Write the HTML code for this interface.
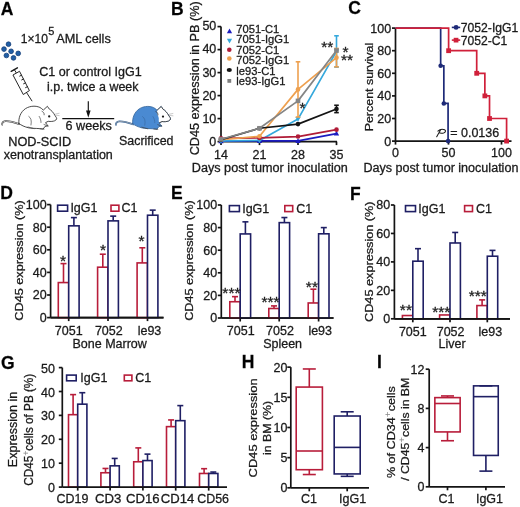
<!DOCTYPE html><html><head><meta charset="utf-8"><style>html,body{margin:0;padding:0;background:#fff;}text{stroke:#1a1a1a;stroke-width:0.28px;}svg{display:block;will-change:transform;filter:blur(0.25px);}</style></head><body><svg width="520" height="507" viewBox="0 0 520 507" font-family='"Liberation Sans", sans-serif'>
<rect width="520" height="507" fill="#fff"/>
<text x="0.80" y="14.50" font-size="17.5" text-anchor="start" fill="#000" font-weight="bold">A</text>
<circle cx="8.5" cy="44.2" r="2.35" fill="#215fa6" stroke="#163f78" stroke-width="0.8"/>
<circle cx="4.0" cy="49.1" r="2.35" fill="#215fa6" stroke="#163f78" stroke-width="0.8"/>
<circle cx="11.1" cy="51.3" r="2.35" fill="#215fa6" stroke="#163f78" stroke-width="0.8"/>
<circle cx="18.2" cy="53.4" r="2.35" fill="#215fa6" stroke="#163f78" stroke-width="0.8"/>
<circle cx="6.4" cy="55.5" r="2.35" fill="#215fa6" stroke="#163f78" stroke-width="0.8"/>
<circle cx="13.5" cy="57.9" r="2.35" fill="#215fa6" stroke="#163f78" stroke-width="0.8"/>
<text x="20.70" y="42.60" font-size="12.2" text-anchor="start" fill="#1a1a1a" textLength="27.20" lengthAdjust="spacingAndGlyphs">1×10</text>
<text x="48.20" y="34.90" font-size="11" text-anchor="start" fill="#1a1a1a">5</text>
<text x="56.20" y="42.60" font-size="12.2" text-anchor="start" fill="#1a1a1a" textLength="54.60" lengthAdjust="spacingAndGlyphs">AML cells</text>
<g stroke="#1a1a1a" stroke-width="0.95" fill="none" stroke-linecap="round"><line x1="11.2" y1="71.3" x2="17.4" y2="67.8" stroke-width="1.4"/><line x1="14.3" y1="69.6" x2="16.4" y2="73"/><polygon points="13.3,74.8 19.5,71.3 29.4,90.6 23.6,94.3" fill="#fff" stroke-linejoin="round"/><line x1="26.6" y1="92.6" x2="31.9" y2="100.9"/><line x1="21.5" y1="75.2" x2="19.7" y2="76.1"/><line x1="23.5" y1="79.0" x2="21.7" y2="79.9"/><line x1="25.4" y1="82.9" x2="23.6" y2="83.8"/><line x1="27.4" y1="86.7" x2="25.6" y2="87.6"/></g>
<text x="39.20" y="76.40" font-size="12" text-anchor="start" fill="#1a1a1a" textLength="102.50" lengthAdjust="spacingAndGlyphs">C1 or control IgG1</text>
<text x="47.00" y="90.80" font-size="12" text-anchor="start" fill="#1a1a1a" textLength="91.50" lengthAdjust="spacingAndGlyphs">i.p. twice a week</text>
<line x1="88.30" y1="101.20" x2="88.30" y2="112.00" stroke="#111" stroke-width="1.15"/>
<polygon points="86.0,110.6 90.6,110.6 88.3,117.7" fill="#111"/>
<line x1="62.30" y1="118.60" x2="114.20" y2="118.60" stroke="#111" stroke-width="1.35"/>
<text x="65.50" y="129.50" font-size="12" text-anchor="start" fill="#1a1a1a" textLength="46.30" lengthAdjust="spacingAndGlyphs">6 weeks</text>
<text x="8.20" y="145.60" font-size="12" text-anchor="start" fill="#1a1a1a" textLength="63.00" lengthAdjust="spacingAndGlyphs">NOD-SCID</text>
<text x="3.80" y="159.00" font-size="12" text-anchor="start" fill="#1a1a1a" textLength="109.00" lengthAdjust="spacingAndGlyphs">xenotransplantation</text>
<text x="119.00" y="144.90" font-size="12" text-anchor="start" fill="#1a1a1a" textLength="54.50" lengthAdjust="spacingAndGlyphs">Sacrificed</text>
<g transform="translate(0,0)" stroke-linejoin="round" stroke-linecap="round">
<path d="M19.5,124.2 C15,122.6 10,120.9 5.5,121.2 C3,121.5 1.8,122.8 2.2,124.6" fill="none" stroke="#2a2a2a" stroke-width="1.7"/>
<path d="M19.5,124.2 C15,122.6 10,120.9 5.5,121.2 C3,121.5 1.8,122.8 2.2,124.6" fill="none" stroke="#fff" stroke-width="0.7"/>
<path d="M18.9,123.4 C18.3,118 20.5,112 25.4,108.7 C28,107 31,106.2 34,106.2 C37,106.2 39.6,107 41.4,108.4 L43.3,110.1 L47.4,106.3 L49.3,109.1 C51.2,110.1 53.2,112.2 55.2,115.8 C56,116.9 56.7,117.9 56.7,118.8 C56.3,119.8 55.6,120.4 54.6,120.8 C53,121.4 50.8,121.7 48.2,121.3 L45.6,122.6 L46.6,124.3 L48.2,125.8 L45,126.4 L43.2,129 L39.2,128.6 C35.2,128.3 31.2,128.4 28.6,127.8 C24.8,126.9 21,125.3 18.9,123.4 Z" fill="#fff" stroke="#2a2a2a" stroke-width="0.85"/>
<path d="M42,111.3 C43.5,112 44.4,113.2 44.2,114.8" fill="none" stroke="#333" stroke-width="0.7"/>
<path d="M28.8,116.4 C31,117.8 31.8,120.5 31,125 M39.2,116.4 C40.5,118.5 41,120.5 41,122.5" fill="none" stroke="#2a2a2a" stroke-width="0.6"/>
<path d="M28,127 L34,128.6 M40,128.8 L44,129.2 M44,124.5 L48,126" fill="none" stroke="#444" stroke-width="0.7"/>
<circle cx="49.2" cy="116.4" r="1.15" fill="#1a1a1a"/>
<path d="M55.6,114 L59.1,113.3 M55.9,115.2 L59.2,115.6" fill="none" stroke="#888" stroke-width="0.45"/>
</g>
<g transform="translate(113.8,0.2)" stroke-linejoin="round" stroke-linecap="round">
<path d="M19.5,124.2 C15,122.6 10,120.9 5.5,121.2 C3,121.5 1.8,122.8 2.2,124.6" fill="none" stroke="#35659c" stroke-width="1.7"/>
<path d="M19.5,124.2 C15,122.6 10,120.9 5.5,121.2 C3,121.5 1.8,122.8 2.2,124.6" fill="none" stroke="#b0b0b0" stroke-width="0.7"/>
<path d="M18.9,123.4 C18.3,118 20.5,112 25.4,108.7 C28,107 31,106.2 34,106.2 C37,106.2 39.6,107 41.4,108.4 L43.3,110.1 L47.4,106.3 L49.3,109.1 C51.2,110.1 53.2,112.2 55.2,115.8 C56,116.9 56.7,117.9 56.7,118.8 C56.3,119.8 55.6,120.4 54.6,120.8 C53,121.4 50.8,121.7 48.2,121.3 L45.6,122.6 L46.6,124.3 L48.2,125.8 L45,126.4 L43.2,129 L39.2,128.6 C35.2,128.3 31.2,128.4 28.6,127.8 C24.8,126.9 21,125.3 18.9,123.4 Z" fill="#4a8ad2" stroke="#35659c" stroke-width="0.85"/>
<path d="M43.3,110.1 L47.4,106.3 L49.3,109.1 C51.2,110.1 53.2,112.2 55.2,115.8 C56,116.9 56.7,117.9 56.7,118.8 C56.3,119.8 55.6,120.4 54.6,120.8 C53,121.4 50.8,121.7 48.2,121.3 L45.6,122.6 C44.2,121 45.6,118.5 44.6,116.5 C43.6,114.5 43.2,112.5 43.3,110.1 Z" fill="#fff" stroke="none"/>
<path d="M43.3,110.1 L47.4,106.3 L49.3,109.1 C51.2,110.1 53.2,112.2 55.2,115.8 C56,116.9 56.7,117.9 56.7,118.8 C56.3,119.8 55.6,120.4 54.6,120.8 C53,121.4 50.8,121.7 48.2,121.3 L45.6,122.6" fill="none" stroke="#333" stroke-width="0.85"/>
<path d="M42,111.3 C43.5,112 44.4,113.2 44.2,114.8" fill="none" stroke="#333" stroke-width="0.7"/>
<path d="M28.8,116.4 C31,117.8 31.8,120.5 31,125 M39.2,116.4 C40.5,118.5 41,120.5 41,122.5" fill="none" stroke="#35659c" stroke-width="0.6"/>
<path d="M28,127 L34,128.6 M40,128.8 L44,129.2 M44,124.5 L48,126" fill="none" stroke="#444" stroke-width="0.7"/>
<circle cx="49.2" cy="116.4" r="1.15" fill="#1a1a1a"/>
<path d="M55.6,114 L59.1,113.3 M55.9,115.2 L59.2,115.6" fill="none" stroke="#888" stroke-width="0.45"/>
</g>
<text x="171.00" y="14.50" font-size="17.5" text-anchor="start" fill="#000" font-weight="bold">B</text>
<line x1="221.00" y1="26.60" x2="221.00" y2="141.60" stroke="#141414" stroke-width="1.7"/>
<line x1="221.00" y1="141.60" x2="337.00" y2="141.60" stroke="#141414" stroke-width="1.7"/>
<line x1="217.50" y1="141.60" x2="221.00" y2="141.60" stroke="#141414" stroke-width="1.7"/>
<text x="216.30" y="145.70" font-size="12.5" text-anchor="end" fill="#1a1a1a">0</text>
<line x1="217.50" y1="118.60" x2="221.00" y2="118.60" stroke="#141414" stroke-width="1.7"/>
<text x="216.30" y="122.64" font-size="12.5" text-anchor="end" fill="#1a1a1a">10</text>
<line x1="217.50" y1="95.60" x2="221.00" y2="95.60" stroke="#141414" stroke-width="1.7"/>
<text x="216.30" y="99.58" font-size="12.5" text-anchor="end" fill="#1a1a1a">20</text>
<line x1="217.50" y1="72.60" x2="221.00" y2="72.60" stroke="#141414" stroke-width="1.7"/>
<text x="216.30" y="76.52" font-size="12.5" text-anchor="end" fill="#1a1a1a">30</text>
<line x1="217.50" y1="49.60" x2="221.00" y2="49.60" stroke="#141414" stroke-width="1.7"/>
<text x="216.30" y="53.46" font-size="12.5" text-anchor="end" fill="#1a1a1a">40</text>
<line x1="217.50" y1="26.60" x2="221.00" y2="26.60" stroke="#141414" stroke-width="1.7"/>
<text x="216.30" y="30.40" font-size="12.5" text-anchor="end" fill="#1a1a1a">50</text>
<line x1="221.00" y1="141.60" x2="221.00" y2="145.10" stroke="#141414" stroke-width="1.7"/>
<text x="221.00" y="158.50" font-size="12.5" text-anchor="middle" fill="#1a1a1a">14</text>
<line x1="259.50" y1="141.60" x2="259.50" y2="145.10" stroke="#141414" stroke-width="1.7"/>
<text x="259.50" y="158.50" font-size="12.5" text-anchor="middle" fill="#1a1a1a">21</text>
<line x1="298.00" y1="141.60" x2="298.00" y2="145.10" stroke="#141414" stroke-width="1.7"/>
<text x="298.00" y="158.50" font-size="12.5" text-anchor="middle" fill="#1a1a1a">28</text>
<line x1="336.50" y1="141.60" x2="336.50" y2="145.10" stroke="#141414" stroke-width="1.7"/>
<text x="336.50" y="158.50" font-size="12.5" text-anchor="middle" fill="#1a1a1a">35</text>
<text transform="translate(198.80,78.30) rotate(-90)" x="0" y="0" font-size="12" text-anchor="middle" fill="#1a1a1a" textLength="154.00" lengthAdjust="spacingAndGlyphs">CD45 expression in PB (%)</text>
<text x="191.80" y="172.30" font-size="12" text-anchor="start" fill="#1a1a1a" textLength="156.00" lengthAdjust="spacingAndGlyphs">Days post tumor inoculation</text>
<polyline points="221.00,141.14 259.50,140.91 298.00,140.91 336.50,133.55" fill="none" stroke="#1c1cc0" stroke-width="1.7" stroke-linejoin="round"/>
<polygon points="221.00,138.38 218.35,143.21 223.65,143.21" fill="#1c1cc0"/>
<polygon points="259.50,138.15 256.86,142.98 262.14,142.98" fill="#1c1cc0"/>
<polygon points="298.00,138.15 295.36,142.98 300.64,142.98" fill="#1c1cc0"/>
<polygon points="336.50,130.79 333.86,135.62 339.14,135.62" fill="#1c1cc0"/>
<polyline points="221.00,140.91 259.50,140.45 298.00,119.06 336.50,51.44" fill="none" stroke="#35a8dc" stroke-width="1.7" stroke-linejoin="round"/>
<line x1="336.50" y1="35.80" x2="336.50" y2="67.08" stroke="#35a8dc" stroke-width="1.6"/>
<line x1="334.20" y1="35.80" x2="338.80" y2="35.80" stroke="#35a8dc" stroke-width="1.6"/>
<line x1="334.20" y1="67.08" x2="338.80" y2="67.08" stroke="#35a8dc" stroke-width="1.6"/>
<polygon points="221.00,143.67 218.35,138.84 223.65,138.84" fill="#35a8dc"/>
<polygon points="259.50,143.21 256.86,138.38 262.14,138.38" fill="#35a8dc"/>
<polygon points="298.00,121.82 295.36,116.99 300.64,116.99" fill="#35a8dc"/>
<polygon points="336.50,54.20 333.86,49.37 339.14,49.37" fill="#35a8dc"/>
<polyline points="221.00,138.38 259.50,137.92 298.00,136.54 336.50,129.64" fill="none" stroke="#b01c38" stroke-width="1.7" stroke-linejoin="round"/>
<circle cx="221.00" cy="138.38" r="2.3" fill="#b01c38"/>
<circle cx="259.50" cy="137.92" r="2.3" fill="#b01c38"/>
<circle cx="298.00" cy="136.54" r="2.3" fill="#b01c38"/>
<circle cx="336.50" cy="129.64" r="2.3" fill="#b01c38"/>
<polyline points="221.00,139.76 259.50,136.31 298.00,89.39 336.50,57.65" fill="none" stroke="#eea04f" stroke-width="1.7" stroke-linejoin="round"/>
<line x1="298.00" y1="61.79" x2="298.00" y2="116.99" stroke="#eea04f" stroke-width="1.6"/>
<line x1="295.70" y1="61.79" x2="300.30" y2="61.79" stroke="#eea04f" stroke-width="1.6"/>
<line x1="295.70" y1="116.99" x2="300.30" y2="116.99" stroke="#eea04f" stroke-width="1.6"/>
<line x1="336.50" y1="48.45" x2="336.50" y2="66.85" stroke="#eea04f" stroke-width="1.6"/>
<line x1="334.20" y1="48.45" x2="338.80" y2="48.45" stroke="#eea04f" stroke-width="1.6"/>
<line x1="334.20" y1="66.85" x2="338.80" y2="66.85" stroke="#eea04f" stroke-width="1.6"/>
<circle cx="221.00" cy="139.76" r="2.3" fill="#eea04f"/>
<circle cx="259.50" cy="136.31" r="2.3" fill="#eea04f"/>
<circle cx="298.00" cy="89.39" r="2.3" fill="#eea04f"/>
<circle cx="336.50" cy="57.65" r="2.3" fill="#eea04f"/>
<polyline points="221.00,139.76 259.50,128.26 298.00,124.12 336.50,108.94" fill="none" stroke="#141414" stroke-width="1.7" stroke-linejoin="round"/>
<line x1="336.50" y1="105.26" x2="336.50" y2="112.62" stroke="#141414" stroke-width="1.6"/>
<line x1="334.20" y1="105.26" x2="338.80" y2="105.26" stroke="#141414" stroke-width="1.6"/>
<line x1="334.20" y1="112.62" x2="338.80" y2="112.62" stroke="#141414" stroke-width="1.6"/>
<circle cx="221.00" cy="139.76" r="2.3" fill="#141414"/>
<circle cx="259.50" cy="128.26" r="2.3" fill="#141414"/>
<circle cx="298.00" cy="124.12" r="2.3" fill="#141414"/>
<circle cx="336.50" cy="108.94" r="2.3" fill="#141414"/>
<polyline points="221.00,139.30 259.50,128.26 298.00,100.89 336.50,50.52" fill="none" stroke="#858585" stroke-width="1.7" stroke-linejoin="round"/>
<rect x="218.70" y="137.00" width="4.60" height="4.60" fill="#858585"/>
<rect x="257.20" y="125.96" width="4.60" height="4.60" fill="#858585"/>
<rect x="295.70" y="98.59" width="4.60" height="4.60" fill="#858585"/>
<rect x="334.20" y="48.22" width="4.60" height="4.60" fill="#858585"/>
<polygon points="229.5,28.40 226.9,33.20 232.1,33.20" fill="#1c1cc0"/>
<text x="236.30" y="33.00" font-size="11.2" text-anchor="start" fill="#1a1a1a">7051-C1</text>
<polygon points="229.5,43.60 226.9,38.80 232.1,38.80" fill="#35a8dc"/>
<text x="236.30" y="43.42" font-size="11.2" text-anchor="start" fill="#1a1a1a">7051-IgG1</text>
<circle cx="229.30" cy="49.70" r="2.3" fill="#b01c38"/>
<text x="236.30" y="53.84" font-size="11.2" text-anchor="start" fill="#1a1a1a">7052-C1</text>
<circle cx="229.30" cy="58.50" r="2.3" fill="#eea04f"/>
<text x="236.30" y="64.26" font-size="11.2" text-anchor="start" fill="#1a1a1a">7052-IgG1</text>
<ellipse cx="229.3" cy="69.9" rx="2.6" ry="2.0" fill="#141414"/>
<text x="236.30" y="74.68" font-size="11.2" text-anchor="start" fill="#1a1a1a">le93-C1</text>
<rect x="227.40" y="79.00" width="3.80" height="3.80" fill="#7f7f7f"/>
<text x="236.30" y="85.10" font-size="11.2" text-anchor="start" fill="#1a1a1a">le93-IgG1</text>
<text x="327.30" y="51.54" font-size="15.5" text-anchor="middle" fill="#1a1a1a">**</text>
<text x="345.60" y="56.74" font-size="15.5" text-anchor="middle" fill="#1a1a1a">*</text>
<text x="347.10" y="64.84" font-size="15.5" text-anchor="middle" fill="#1a1a1a">**</text>
<text x="302.40" y="112.64" font-size="15.5" text-anchor="middle" fill="#1a1a1a">*</text>
<text x="348.30" y="13.50" font-size="17.5" text-anchor="start" fill="#000" font-weight="bold">C</text>
<line x1="395.50" y1="28.10" x2="395.50" y2="141.10" stroke="#141414" stroke-width="1.7"/>
<line x1="395.50" y1="141.10" x2="511.50" y2="141.10" stroke="#141414" stroke-width="1.7"/>
<line x1="392.00" y1="141.10" x2="395.50" y2="141.10" stroke="#141414" stroke-width="1.7"/>
<text x="391.20" y="145.50" font-size="12.5" text-anchor="end" fill="#1a1a1a">0</text>
<line x1="392.00" y1="118.50" x2="395.50" y2="118.50" stroke="#141414" stroke-width="1.7"/>
<text x="391.20" y="122.90" font-size="12.5" text-anchor="end" fill="#1a1a1a">20</text>
<line x1="392.00" y1="95.90" x2="395.50" y2="95.90" stroke="#141414" stroke-width="1.7"/>
<text x="391.20" y="100.30" font-size="12.5" text-anchor="end" fill="#1a1a1a">40</text>
<line x1="392.00" y1="73.30" x2="395.50" y2="73.30" stroke="#141414" stroke-width="1.7"/>
<text x="391.20" y="77.70" font-size="12.5" text-anchor="end" fill="#1a1a1a">60</text>
<line x1="392.00" y1="50.70" x2="395.50" y2="50.70" stroke="#141414" stroke-width="1.7"/>
<text x="391.20" y="55.10" font-size="12.5" text-anchor="end" fill="#1a1a1a">80</text>
<line x1="392.00" y1="28.10" x2="395.50" y2="28.10" stroke="#141414" stroke-width="1.7"/>
<text x="391.20" y="32.50" font-size="12.5" text-anchor="end" fill="#1a1a1a">100</text>
<line x1="395.50" y1="141.10" x2="395.50" y2="144.60" stroke="#141414" stroke-width="1.7"/>
<text x="395.50" y="157.00" font-size="12.5" text-anchor="middle" fill="#1a1a1a">0</text>
<line x1="448.50" y1="141.10" x2="448.50" y2="144.60" stroke="#141414" stroke-width="1.7"/>
<text x="448.50" y="157.00" font-size="12.5" text-anchor="middle" fill="#1a1a1a">50</text>
<line x1="501.50" y1="141.10" x2="501.50" y2="144.60" stroke="#141414" stroke-width="1.7"/>
<text x="501.50" y="157.00" font-size="12.5" text-anchor="middle" fill="#1a1a1a">100</text>
<text transform="translate(373.00,87.10) rotate(-90)" x="0" y="0" font-size="11.2" text-anchor="middle" fill="#1a1a1a" textLength="88.50" lengthAdjust="spacingAndGlyphs">Percent survival</text>
<text x="363.40" y="171.80" font-size="12" text-anchor="start" fill="#1a1a1a" textLength="155.00" lengthAdjust="spacingAndGlyphs">Days post tumor inoculation</text>
<polyline points="395.50,28.10 440.66,28.10 440.66,65.73 443.84,65.73 443.84,103.47 448.08,103.47 448.08,141.10" fill="none" stroke="#1e2a78" stroke-width="1.7"/>
<circle cx="440.66" cy="65.73" r="2.3" fill="#1e2a78"/>
<circle cx="443.84" cy="103.47" r="2.3" fill="#1e2a78"/>
<circle cx="448.08" cy="141.10" r="2.3" fill="#1e2a78"/>
<polyline points="395.50,28.10 448.61,28.10 448.61,50.70 476.70,50.70 476.70,73.30 484.86,73.30 484.86,95.90 489.52,95.90 489.52,118.50 506.59,118.50 506.59,141.10" fill="none" stroke="#d0203a" stroke-width="1.7"/>
<rect x="446.21" y="48.30" width="4.8" height="4.8" fill="#d0203a"/>
<rect x="474.30" y="70.90" width="4.8" height="4.8" fill="#d0203a"/>
<rect x="482.46" y="93.50" width="4.8" height="4.8" fill="#d0203a"/>
<rect x="487.12" y="116.10" width="4.8" height="4.8" fill="#d0203a"/>
<rect x="504.19" y="138.70" width="4.8" height="4.8" fill="#d0203a"/>
<line x1="451.80" y1="27.40" x2="460.20" y2="27.40" stroke="#1e2a78" stroke-width="1.6"/>
<circle cx="456.1" cy="27.4" r="2.45" fill="#1e2a78"/>
<text x="460.80" y="31.80" font-size="12.2" text-anchor="start" fill="#1a1a1a" textLength="57.50" lengthAdjust="spacingAndGlyphs">7052-IgG1</text>
<line x1="451.80" y1="40.10" x2="460.20" y2="40.10" stroke="#d0203a" stroke-width="1.6"/>
<rect x="453.7" y="37.8" width="4.7" height="4.7" fill="#d0203a"/>
<text x="460.80" y="45.00" font-size="12.2" text-anchor="start" fill="#1a1a1a" textLength="46.50" lengthAdjust="spacingAndGlyphs">7052-C1</text>
<path d="M436.7,136.8 C437.8,134.6 439.2,132.2 440.6,129.9 M437.9,131.2 C439.6,129.5 442.6,128.9 444.6,129.8 C446.1,130.6 445.7,132.4 443.6,133.0 C442.4,133.3 441.1,133.3 439.9,133.1" fill="none" stroke="#1a1a1a" stroke-width="1.05" stroke-linecap="round"/>
<text x="450.20" y="136.80" font-size="12.5" text-anchor="start" fill="#1a1a1a" textLength="49.00" lengthAdjust="spacingAndGlyphs">= 0.0136</text>
<line x1="50.60" y1="204.60" x2="50.60" y2="317.60" stroke="#141414" stroke-width="1.7"/>
<line x1="50.60" y1="317.60" x2="163.50" y2="317.60" stroke="#141414" stroke-width="1.7"/>
<line x1="47.10" y1="317.60" x2="50.60" y2="317.60" stroke="#141414" stroke-width="1.7"/>
<text x="46.70" y="322.00" font-size="12.5" text-anchor="end" fill="#1a1a1a">0</text>
<line x1="47.10" y1="295.00" x2="50.60" y2="295.00" stroke="#141414" stroke-width="1.7"/>
<text x="46.70" y="299.40" font-size="12.5" text-anchor="end" fill="#1a1a1a">20</text>
<line x1="47.10" y1="272.40" x2="50.60" y2="272.40" stroke="#141414" stroke-width="1.7"/>
<text x="46.70" y="276.80" font-size="12.5" text-anchor="end" fill="#1a1a1a">40</text>
<line x1="47.10" y1="249.80" x2="50.60" y2="249.80" stroke="#141414" stroke-width="1.7"/>
<text x="46.70" y="254.20" font-size="12.5" text-anchor="end" fill="#1a1a1a">60</text>
<line x1="47.10" y1="227.20" x2="50.60" y2="227.20" stroke="#141414" stroke-width="1.7"/>
<text x="46.70" y="231.60" font-size="12.5" text-anchor="end" fill="#1a1a1a">80</text>
<line x1="47.10" y1="204.60" x2="50.60" y2="204.60" stroke="#141414" stroke-width="1.7"/>
<text x="46.70" y="209.00" font-size="12.5" text-anchor="end" fill="#1a1a1a">100</text>
<line x1="68.70" y1="317.60" x2="68.70" y2="321.10" stroke="#141414" stroke-width="1.7"/>
<line x1="63.50" y1="282.57" x2="63.50" y2="263.59" stroke="#b81d3a" stroke-width="1.6"/>
<line x1="60.50" y1="263.59" x2="66.50" y2="263.59" stroke="#b81d3a" stroke-width="1.6"/>
<rect x="58.30" y="282.57" width="10.40" height="35.03" fill="#fff" stroke="#b81d3a" stroke-width="1.6"/>
<line x1="73.90" y1="225.84" x2="73.90" y2="217.60" stroke="#1f1f64" stroke-width="1.6"/>
<line x1="70.90" y1="217.60" x2="76.90" y2="217.60" stroke="#1f1f64" stroke-width="1.6"/>
<rect x="68.70" y="225.84" width="10.40" height="91.76" fill="#fff" stroke="#1f1f64" stroke-width="1.6"/>
<text x="68.70" y="334.60" font-size="12.5" text-anchor="middle" fill="#1a1a1a">7051</text>
<line x1="108.00" y1="317.60" x2="108.00" y2="321.10" stroke="#141414" stroke-width="1.7"/>
<line x1="102.80" y1="267.20" x2="102.80" y2="254.21" stroke="#b81d3a" stroke-width="1.6"/>
<line x1="99.80" y1="254.21" x2="105.80" y2="254.21" stroke="#b81d3a" stroke-width="1.6"/>
<rect x="97.60" y="267.20" width="10.40" height="50.40" fill="#fff" stroke="#b81d3a" stroke-width="1.6"/>
<line x1="113.20" y1="220.87" x2="113.20" y2="216.13" stroke="#1f1f64" stroke-width="1.6"/>
<line x1="110.20" y1="216.13" x2="116.20" y2="216.13" stroke="#1f1f64" stroke-width="1.6"/>
<rect x="108.00" y="220.87" width="10.40" height="96.73" fill="#fff" stroke="#1f1f64" stroke-width="1.6"/>
<text x="108.80" y="334.60" font-size="12.5" text-anchor="middle" fill="#1a1a1a">7052</text>
<line x1="147.50" y1="317.60" x2="147.50" y2="321.10" stroke="#141414" stroke-width="1.7"/>
<line x1="142.30" y1="262.91" x2="142.30" y2="247.77" stroke="#b81d3a" stroke-width="1.6"/>
<line x1="139.30" y1="247.77" x2="145.30" y2="247.77" stroke="#b81d3a" stroke-width="1.6"/>
<rect x="137.10" y="262.91" width="10.40" height="54.69" fill="#fff" stroke="#b81d3a" stroke-width="1.6"/>
<line x1="152.70" y1="215.22" x2="152.70" y2="210.14" stroke="#1f1f64" stroke-width="1.6"/>
<line x1="149.70" y1="210.14" x2="155.70" y2="210.14" stroke="#1f1f64" stroke-width="1.6"/>
<rect x="147.50" y="215.22" width="10.40" height="102.38" fill="#fff" stroke="#1f1f64" stroke-width="1.6"/>
<text x="149.50" y="334.60" font-size="12.5" text-anchor="middle" fill="#1a1a1a">le93</text>
<line x1="50.60" y1="317.60" x2="163.50" y2="317.60" stroke="#141414" stroke-width="1.7"/>
<text x="63.10" y="266.44" font-size="15.5" text-anchor="middle" fill="#1a1a1a">*</text>
<text x="103.10" y="255.24" font-size="15.5" text-anchor="middle" fill="#1a1a1a">*</text>
<text x="141.50" y="246.04" font-size="15.5" text-anchor="middle" fill="#1a1a1a">*</text>
<text x="0.20" y="199.40" font-size="17.5" text-anchor="start" fill="#000" font-weight="bold">D</text>
<text transform="translate(22.80,260.40) rotate(-90)" x="0" y="0" font-size="11.2" text-anchor="middle" fill="#1a1a1a" textLength="120.50" lengthAdjust="spacingAndGlyphs">CD45 expression (%)</text>
<text x="109.70" y="347.80" font-size="12.5" text-anchor="middle" fill="#1a1a1a">Bone Marrow</text>
<rect x="57.60" y="205.20" width="10.00" height="6.00" fill="#fff" stroke="#1f1f64" stroke-width="1.6"/>
<text x="70.40" y="212.20" font-size="12.5" text-anchor="start" fill="#1a1a1a">IgG1</text>
<rect x="111.00" y="205.20" width="7.90" height="6.00" fill="#fff" stroke="#b81d3a" stroke-width="1.6"/>
<text x="121.50" y="212.20" font-size="12.5" text-anchor="start" fill="#1a1a1a">C1</text>
<line x1="221.30" y1="205.00" x2="221.30" y2="318.00" stroke="#141414" stroke-width="1.7"/>
<line x1="221.30" y1="318.00" x2="333.50" y2="318.00" stroke="#141414" stroke-width="1.7"/>
<line x1="217.80" y1="318.00" x2="221.30" y2="318.00" stroke="#141414" stroke-width="1.7"/>
<text x="217.10" y="322.40" font-size="12.5" text-anchor="end" fill="#1a1a1a">0</text>
<line x1="217.80" y1="295.40" x2="221.30" y2="295.40" stroke="#141414" stroke-width="1.7"/>
<text x="217.10" y="299.80" font-size="12.5" text-anchor="end" fill="#1a1a1a">20</text>
<line x1="217.80" y1="272.80" x2="221.30" y2="272.80" stroke="#141414" stroke-width="1.7"/>
<text x="217.10" y="277.20" font-size="12.5" text-anchor="end" fill="#1a1a1a">40</text>
<line x1="217.80" y1="250.20" x2="221.30" y2="250.20" stroke="#141414" stroke-width="1.7"/>
<text x="217.10" y="254.60" font-size="12.5" text-anchor="end" fill="#1a1a1a">60</text>
<line x1="217.80" y1="227.60" x2="221.30" y2="227.60" stroke="#141414" stroke-width="1.7"/>
<text x="217.10" y="232.00" font-size="12.5" text-anchor="end" fill="#1a1a1a">80</text>
<line x1="217.80" y1="205.00" x2="221.30" y2="205.00" stroke="#141414" stroke-width="1.7"/>
<text x="217.10" y="209.40" font-size="12.5" text-anchor="end" fill="#1a1a1a">100</text>
<line x1="240.20" y1="318.00" x2="240.20" y2="321.50" stroke="#141414" stroke-width="1.7"/>
<line x1="235.00" y1="301.73" x2="235.00" y2="296.64" stroke="#b81d3a" stroke-width="1.6"/>
<line x1="232.00" y1="296.64" x2="238.00" y2="296.64" stroke="#b81d3a" stroke-width="1.6"/>
<rect x="229.80" y="301.73" width="10.40" height="16.27" fill="#fff" stroke="#b81d3a" stroke-width="1.6"/>
<line x1="245.40" y1="233.93" x2="245.40" y2="221.84" stroke="#1f1f64" stroke-width="1.6"/>
<line x1="242.40" y1="221.84" x2="248.40" y2="221.84" stroke="#1f1f64" stroke-width="1.6"/>
<rect x="240.20" y="233.93" width="10.40" height="84.07" fill="#fff" stroke="#1f1f64" stroke-width="1.6"/>
<text x="240.70" y="335.00" font-size="12.5" text-anchor="middle" fill="#1a1a1a">7051</text>
<line x1="279.20" y1="318.00" x2="279.20" y2="321.50" stroke="#141414" stroke-width="1.7"/>
<line x1="274.00" y1="308.51" x2="274.00" y2="305.91" stroke="#b81d3a" stroke-width="1.6"/>
<line x1="271.00" y1="305.91" x2="277.00" y2="305.91" stroke="#b81d3a" stroke-width="1.6"/>
<rect x="268.80" y="308.51" width="10.40" height="9.49" fill="#fff" stroke="#b81d3a" stroke-width="1.6"/>
<line x1="284.40" y1="222.63" x2="284.40" y2="217.54" stroke="#1f1f64" stroke-width="1.6"/>
<line x1="281.40" y1="217.54" x2="287.40" y2="217.54" stroke="#1f1f64" stroke-width="1.6"/>
<rect x="279.20" y="222.63" width="10.40" height="95.37" fill="#fff" stroke="#1f1f64" stroke-width="1.6"/>
<text x="280.00" y="335.00" font-size="12.5" text-anchor="middle" fill="#1a1a1a">7052</text>
<line x1="318.60" y1="318.00" x2="318.60" y2="321.50" stroke="#141414" stroke-width="1.7"/>
<line x1="313.40" y1="302.97" x2="313.40" y2="289.19" stroke="#b81d3a" stroke-width="1.6"/>
<line x1="310.40" y1="289.19" x2="316.40" y2="289.19" stroke="#b81d3a" stroke-width="1.6"/>
<rect x="308.20" y="302.97" width="10.40" height="15.03" fill="#fff" stroke="#b81d3a" stroke-width="1.6"/>
<line x1="323.80" y1="233.81" x2="323.80" y2="227.60" stroke="#1f1f64" stroke-width="1.6"/>
<line x1="320.80" y1="227.60" x2="326.80" y2="227.60" stroke="#1f1f64" stroke-width="1.6"/>
<rect x="318.60" y="233.81" width="10.40" height="84.19" fill="#fff" stroke="#1f1f64" stroke-width="1.6"/>
<text x="320.20" y="335.00" font-size="12.5" text-anchor="middle" fill="#1a1a1a">le93</text>
<line x1="221.30" y1="318.00" x2="333.50" y2="318.00" stroke="#141414" stroke-width="1.7"/>
<text x="231.40" y="298.44" font-size="15.5" text-anchor="middle" fill="#1a1a1a">***</text>
<text x="270.60" y="306.94" font-size="15.5" text-anchor="middle" fill="#1a1a1a">***</text>
<text x="311.90" y="291.64" font-size="15.5" text-anchor="middle" fill="#1a1a1a">**</text>
<text x="171.10" y="199.40" font-size="17.5" text-anchor="start" fill="#000" font-weight="bold">E</text>
<text transform="translate(192.70,260.60) rotate(-90)" x="0" y="0" font-size="11.2" text-anchor="middle" fill="#1a1a1a" textLength="120.50" lengthAdjust="spacingAndGlyphs">CD45 expression (%)</text>
<text x="282.60" y="347.50" font-size="12.5" text-anchor="middle" fill="#1a1a1a">Spleen</text>
<rect x="229.40" y="205.60" width="10.00" height="6.00" fill="#fff" stroke="#1f1f64" stroke-width="1.6"/>
<text x="242.20" y="212.60" font-size="12.5" text-anchor="start" fill="#1a1a1a">IgG1</text>
<rect x="284.80" y="205.60" width="7.90" height="6.00" fill="#fff" stroke="#b81d3a" stroke-width="1.6"/>
<text x="296.30" y="212.60" font-size="12.5" text-anchor="start" fill="#1a1a1a">C1</text>
<line x1="394.40" y1="205.00" x2="394.40" y2="318.80" stroke="#141414" stroke-width="1.7"/>
<line x1="394.40" y1="318.80" x2="510.00" y2="318.80" stroke="#141414" stroke-width="1.7"/>
<line x1="390.90" y1="318.80" x2="394.40" y2="318.80" stroke="#141414" stroke-width="1.7"/>
<text x="390.20" y="323.20" font-size="12.5" text-anchor="end" fill="#1a1a1a">0</text>
<line x1="390.90" y1="290.35" x2="394.40" y2="290.35" stroke="#141414" stroke-width="1.7"/>
<text x="390.20" y="294.75" font-size="12.5" text-anchor="end" fill="#1a1a1a">20</text>
<line x1="390.90" y1="261.90" x2="394.40" y2="261.90" stroke="#141414" stroke-width="1.7"/>
<text x="390.20" y="266.30" font-size="12.5" text-anchor="end" fill="#1a1a1a">40</text>
<line x1="390.90" y1="233.45" x2="394.40" y2="233.45" stroke="#141414" stroke-width="1.7"/>
<text x="390.20" y="237.85" font-size="12.5" text-anchor="end" fill="#1a1a1a">60</text>
<line x1="390.90" y1="205.00" x2="394.40" y2="205.00" stroke="#141414" stroke-width="1.7"/>
<text x="390.20" y="209.40" font-size="12.5" text-anchor="end" fill="#1a1a1a">80</text>
<line x1="412.80" y1="318.80" x2="412.80" y2="322.30" stroke="#141414" stroke-width="1.7"/>
<rect x="402.40" y="315.53" width="10.40" height="3.27" fill="#fff" stroke="#b81d3a" stroke-width="1.6"/>
<line x1="418.00" y1="261.19" x2="418.00" y2="248.67" stroke="#1f1f64" stroke-width="1.6"/>
<line x1="415.00" y1="248.67" x2="421.00" y2="248.67" stroke="#1f1f64" stroke-width="1.6"/>
<rect x="412.80" y="261.19" width="10.40" height="57.61" fill="#fff" stroke="#1f1f64" stroke-width="1.6"/>
<text x="412.80" y="335.80" font-size="12.5" text-anchor="middle" fill="#1a1a1a">7051</text>
<line x1="450.00" y1="318.80" x2="450.00" y2="322.30" stroke="#141414" stroke-width="1.7"/>
<rect x="439.60" y="314.96" width="10.40" height="3.84" fill="#fff" stroke="#b81d3a" stroke-width="1.6"/>
<line x1="455.20" y1="242.98" x2="455.20" y2="232.45" stroke="#1f1f64" stroke-width="1.6"/>
<line x1="452.20" y1="232.45" x2="458.20" y2="232.45" stroke="#1f1f64" stroke-width="1.6"/>
<rect x="450.00" y="242.98" width="10.40" height="75.82" fill="#fff" stroke="#1f1f64" stroke-width="1.6"/>
<text x="450.60" y="335.80" font-size="12.5" text-anchor="middle" fill="#1a1a1a">7052</text>
<line x1="487.30" y1="318.80" x2="487.30" y2="322.30" stroke="#141414" stroke-width="1.7"/>
<line x1="482.10" y1="305.57" x2="482.10" y2="299.88" stroke="#b81d3a" stroke-width="1.6"/>
<line x1="479.10" y1="299.88" x2="485.10" y2="299.88" stroke="#b81d3a" stroke-width="1.6"/>
<rect x="476.90" y="305.57" width="10.40" height="13.23" fill="#fff" stroke="#b81d3a" stroke-width="1.6"/>
<line x1="492.50" y1="256.21" x2="492.50" y2="250.38" stroke="#1f1f64" stroke-width="1.6"/>
<line x1="489.50" y1="250.38" x2="495.50" y2="250.38" stroke="#1f1f64" stroke-width="1.6"/>
<rect x="487.30" y="256.21" width="10.40" height="62.59" fill="#fff" stroke="#1f1f64" stroke-width="1.6"/>
<text x="490.30" y="335.80" font-size="12.5" text-anchor="middle" fill="#1a1a1a">le93</text>
<line x1="394.40" y1="318.80" x2="510.00" y2="318.80" stroke="#141414" stroke-width="1.7"/>
<text x="405.90" y="315.44" font-size="15.5" text-anchor="middle" fill="#1a1a1a">**</text>
<text x="441.20" y="316.74" font-size="15.5" text-anchor="middle" fill="#1a1a1a">***</text>
<text x="477.70" y="301.04" font-size="15.5" text-anchor="middle" fill="#1a1a1a">***</text>
<text x="350.10" y="199.50" font-size="17.5" text-anchor="start" fill="#000" font-weight="bold">F</text>
<text transform="translate(372.80,261.70) rotate(-90)" x="0" y="0" font-size="11.2" text-anchor="middle" fill="#1a1a1a" textLength="120.50" lengthAdjust="spacingAndGlyphs">CD45 expression (%)</text>
<text x="452.00" y="348.30" font-size="12.5" text-anchor="middle" fill="#1a1a1a">Liver</text>
<rect x="405.50" y="205.60" width="10.00" height="6.00" fill="#fff" stroke="#1f1f64" stroke-width="1.6"/>
<text x="418.30" y="212.60" font-size="12.5" text-anchor="start" fill="#1a1a1a">IgG1</text>
<rect x="464.60" y="205.60" width="7.90" height="6.00" fill="#fff" stroke="#b81d3a" stroke-width="1.6"/>
<text x="476.10" y="212.60" font-size="12.5" text-anchor="start" fill="#1a1a1a">C1</text>
<text x="0.90" y="368.80" font-size="17.5" text-anchor="start" fill="#000" font-weight="bold">G</text>
<line x1="62.30" y1="367.60" x2="62.30" y2="487.10" stroke="#141414" stroke-width="1.7"/>
<line x1="58.80" y1="487.10" x2="62.30" y2="487.10" stroke="#141414" stroke-width="1.7"/>
<text x="54.90" y="492.10" font-size="12.5" text-anchor="end" fill="#1a1a1a">0</text>
<line x1="58.80" y1="463.20" x2="62.30" y2="463.20" stroke="#141414" stroke-width="1.7"/>
<text x="54.90" y="468.20" font-size="12.5" text-anchor="end" fill="#1a1a1a">10</text>
<line x1="58.80" y1="439.30" x2="62.30" y2="439.30" stroke="#141414" stroke-width="1.7"/>
<text x="54.90" y="444.30" font-size="12.5" text-anchor="end" fill="#1a1a1a">20</text>
<line x1="58.80" y1="415.40" x2="62.30" y2="415.40" stroke="#141414" stroke-width="1.7"/>
<text x="54.90" y="420.40" font-size="12.5" text-anchor="end" fill="#1a1a1a">30</text>
<line x1="58.80" y1="391.50" x2="62.30" y2="391.50" stroke="#141414" stroke-width="1.7"/>
<text x="54.90" y="396.50" font-size="12.5" text-anchor="end" fill="#1a1a1a">40</text>
<line x1="58.80" y1="367.60" x2="62.30" y2="367.60" stroke="#141414" stroke-width="1.7"/>
<text x="54.90" y="372.60" font-size="12.5" text-anchor="end" fill="#1a1a1a">50</text>
<line x1="77.70" y1="487.10" x2="77.70" y2="490.60" stroke="#141414" stroke-width="1.7"/>
<line x1="73.10" y1="414.68" x2="73.10" y2="394.61" stroke="#b81d3a" stroke-width="1.6"/>
<line x1="70.10" y1="394.61" x2="76.10" y2="394.61" stroke="#b81d3a" stroke-width="1.6"/>
<rect x="68.50" y="414.68" width="9.20" height="72.42" fill="#fff" stroke="#b81d3a" stroke-width="1.6"/>
<line x1="82.30" y1="404.17" x2="82.30" y2="392.70" stroke="#1f1f64" stroke-width="1.6"/>
<line x1="79.30" y1="392.70" x2="85.30" y2="392.70" stroke="#1f1f64" stroke-width="1.6"/>
<rect x="77.70" y="404.17" width="9.20" height="82.93" fill="#fff" stroke="#1f1f64" stroke-width="1.6"/>
<line x1="110.10" y1="487.10" x2="110.10" y2="490.60" stroke="#141414" stroke-width="1.7"/>
<line x1="105.50" y1="472.76" x2="105.50" y2="468.46" stroke="#b81d3a" stroke-width="1.6"/>
<line x1="102.50" y1="468.46" x2="108.50" y2="468.46" stroke="#b81d3a" stroke-width="1.6"/>
<rect x="100.90" y="472.76" width="9.20" height="14.34" fill="#fff" stroke="#b81d3a" stroke-width="1.6"/>
<line x1="114.70" y1="465.83" x2="114.70" y2="458.42" stroke="#1f1f64" stroke-width="1.6"/>
<line x1="111.70" y1="458.42" x2="117.70" y2="458.42" stroke="#1f1f64" stroke-width="1.6"/>
<rect x="110.10" y="465.83" width="9.20" height="21.27" fill="#fff" stroke="#1f1f64" stroke-width="1.6"/>
<line x1="142.90" y1="487.10" x2="142.90" y2="490.60" stroke="#141414" stroke-width="1.7"/>
<line x1="138.30" y1="461.77" x2="138.30" y2="447.90" stroke="#b81d3a" stroke-width="1.6"/>
<line x1="135.30" y1="447.90" x2="141.30" y2="447.90" stroke="#b81d3a" stroke-width="1.6"/>
<rect x="133.70" y="461.77" width="9.20" height="25.33" fill="#fff" stroke="#b81d3a" stroke-width="1.6"/>
<line x1="147.50" y1="460.57" x2="147.50" y2="454.12" stroke="#1f1f64" stroke-width="1.6"/>
<line x1="144.50" y1="454.12" x2="150.50" y2="454.12" stroke="#1f1f64" stroke-width="1.6"/>
<rect x="142.90" y="460.57" width="9.20" height="26.53" fill="#fff" stroke="#1f1f64" stroke-width="1.6"/>
<line x1="175.70" y1="487.10" x2="175.70" y2="490.60" stroke="#141414" stroke-width="1.7"/>
<line x1="171.10" y1="426.63" x2="171.10" y2="419.94" stroke="#b81d3a" stroke-width="1.6"/>
<line x1="168.10" y1="419.94" x2="174.10" y2="419.94" stroke="#b81d3a" stroke-width="1.6"/>
<rect x="166.50" y="426.63" width="9.20" height="60.47" fill="#fff" stroke="#b81d3a" stroke-width="1.6"/>
<line x1="180.30" y1="420.66" x2="180.30" y2="405.60" stroke="#1f1f64" stroke-width="1.6"/>
<line x1="177.30" y1="405.60" x2="183.30" y2="405.60" stroke="#1f1f64" stroke-width="1.6"/>
<rect x="175.70" y="420.66" width="9.20" height="66.44" fill="#fff" stroke="#1f1f64" stroke-width="1.6"/>
<line x1="208.70" y1="487.10" x2="208.70" y2="490.60" stroke="#141414" stroke-width="1.7"/>
<line x1="204.10" y1="473.48" x2="204.10" y2="468.70" stroke="#b81d3a" stroke-width="1.6"/>
<line x1="201.10" y1="468.70" x2="207.10" y2="468.70" stroke="#b81d3a" stroke-width="1.6"/>
<rect x="199.50" y="473.48" width="9.20" height="13.62" fill="#fff" stroke="#b81d3a" stroke-width="1.6"/>
<line x1="213.30" y1="473.48" x2="213.30" y2="472.04" stroke="#1f1f64" stroke-width="1.6"/>
<line x1="210.30" y1="472.04" x2="216.30" y2="472.04" stroke="#1f1f64" stroke-width="1.6"/>
<rect x="208.70" y="473.48" width="9.20" height="13.62" fill="#fff" stroke="#1f1f64" stroke-width="1.6"/>
<line x1="62.30" y1="487.10" x2="227.00" y2="487.10" stroke="#141414" stroke-width="1.7"/>
<text x="56.60" y="503.20" font-size="12.5" text-anchor="start" fill="#1a1a1a" textLength="31.90" lengthAdjust="spacingAndGlyphs">CD19</text>
<text x="94.90" y="503.20" font-size="12.5" text-anchor="start" fill="#1a1a1a" textLength="26.40" lengthAdjust="spacingAndGlyphs">CD3</text>
<text x="125.90" y="503.20" font-size="12.5" text-anchor="start" fill="#1a1a1a" textLength="33.70" lengthAdjust="spacingAndGlyphs">CD16</text>
<text x="160.70" y="503.20" font-size="12.5" text-anchor="start" fill="#1a1a1a" textLength="33.60" lengthAdjust="spacingAndGlyphs">CD14</text>
<text x="197.20" y="503.20" font-size="12.5" text-anchor="start" fill="#1a1a1a" textLength="31.80" lengthAdjust="spacingAndGlyphs">CD56</text>
<rect x="66.60" y="375.10" width="9.60" height="5.70" fill="#fff" stroke="#1f1f64" stroke-width="1.6"/>
<text x="80.30" y="382.40" font-size="12.5" text-anchor="start" fill="#1a1a1a">IgG1</text>
<rect x="124.30" y="375.10" width="7.60" height="5.70" fill="#fff" stroke="#b81d3a" stroke-width="1.6"/>
<text x="135.20" y="382.40" font-size="12.5" text-anchor="start" fill="#1a1a1a">C1</text>
<text transform="translate(17.00,429.40) rotate(-90)" x="0" y="0" font-size="12" text-anchor="middle" fill="#1a1a1a" textLength="75.50" lengthAdjust="spacingAndGlyphs">Expression in</text>
<text transform="translate(33.0,429.8) rotate(-90)" x="0" y="0" font-size="12" text-anchor="middle" fill="#1a1a1a" textLength="112" lengthAdjust="spacingAndGlyphs">CD45<tspan dy="-4.2" font-size="9" fill="#888" style="stroke:none">+</tspan><tspan dy="4.2">cells of PB (%)</tspan></text>
<text x="241.70" y="368.20" font-size="17.5" text-anchor="start" fill="#000" font-weight="bold">H</text>
<line x1="290.80" y1="367.16" x2="290.80" y2="487.80" stroke="#141414" stroke-width="1.7"/>
<line x1="290.80" y1="487.80" x2="369.00" y2="487.80" stroke="#141414" stroke-width="1.7"/>
<line x1="287.30" y1="487.80" x2="290.80" y2="487.80" stroke="#141414" stroke-width="1.7"/>
<text x="287.40" y="492.20" font-size="12.5" text-anchor="end" fill="#1a1a1a">0</text>
<line x1="287.30" y1="457.64" x2="290.80" y2="457.64" stroke="#141414" stroke-width="1.7"/>
<text x="287.40" y="462.04" font-size="12.5" text-anchor="end" fill="#1a1a1a">5</text>
<line x1="287.30" y1="427.48" x2="290.80" y2="427.48" stroke="#141414" stroke-width="1.7"/>
<text x="287.40" y="431.88" font-size="12.5" text-anchor="end" fill="#1a1a1a">10</text>
<line x1="287.30" y1="397.32" x2="290.80" y2="397.32" stroke="#141414" stroke-width="1.7"/>
<text x="287.40" y="401.72" font-size="12.5" text-anchor="end" fill="#1a1a1a">15</text>
<line x1="287.30" y1="367.16" x2="290.80" y2="367.16" stroke="#141414" stroke-width="1.7"/>
<text x="287.40" y="371.56" font-size="12.5" text-anchor="end" fill="#1a1a1a">20</text>
<line x1="309.30" y1="368.97" x2="309.30" y2="387.07" stroke="#b81d3a" stroke-width="1.6"/>
<line x1="309.30" y1="469.70" x2="309.30" y2="474.53" stroke="#b81d3a" stroke-width="1.6"/>
<line x1="302.80" y1="368.97" x2="315.80" y2="368.97" stroke="#b81d3a" stroke-width="1.6"/>
<line x1="302.80" y1="474.53" x2="315.80" y2="474.53" stroke="#b81d3a" stroke-width="1.6"/>
<rect x="296.20" y="387.07" width="26.20" height="82.64" fill="none" stroke="#b81d3a" stroke-width="1.6"/>
<line x1="296.20" y1="451.00" x2="322.40" y2="451.00" stroke="#b81d3a" stroke-width="1.6"/>
<line x1="347.20" y1="411.80" x2="347.20" y2="416.02" stroke="#1f1f64" stroke-width="1.6"/>
<line x1="347.20" y1="473.93" x2="347.20" y2="476.34" stroke="#1f1f64" stroke-width="1.6"/>
<line x1="340.70" y1="411.80" x2="353.70" y2="411.80" stroke="#1f1f64" stroke-width="1.6"/>
<line x1="340.70" y1="476.34" x2="353.70" y2="476.34" stroke="#1f1f64" stroke-width="1.6"/>
<rect x="334.20" y="416.02" width="26.00" height="57.91" fill="none" stroke="#1f1f64" stroke-width="1.6"/>
<line x1="334.20" y1="447.39" x2="360.20" y2="447.39" stroke="#1f1f64" stroke-width="1.6"/>
<line x1="309.30" y1="487.80" x2="309.30" y2="491.30" stroke="#141414" stroke-width="1.7"/>
<line x1="347.20" y1="487.80" x2="347.20" y2="491.30" stroke="#141414" stroke-width="1.7"/>
<text x="309.00" y="502.60" font-size="12.5" text-anchor="middle" fill="#1a1a1a">C1</text>
<text x="352.60" y="502.60" font-size="12.5" text-anchor="middle" fill="#1a1a1a">IgG1</text>
<text transform="translate(256.90,427.90) rotate(-90)" x="0" y="0" font-size="11.3" text-anchor="middle" fill="#1a1a1a" textLength="99.00" lengthAdjust="spacingAndGlyphs">CD45 expression</text>
<text transform="translate(271.00,427.90) rotate(-90)" x="0" y="0" font-size="11.3" text-anchor="middle" fill="#1a1a1a" textLength="54.00" lengthAdjust="spacingAndGlyphs">in BM (%)</text>
<text x="377.00" y="368.40" font-size="17.5" text-anchor="start" fill="#000" font-weight="bold">I</text>
<line x1="429.20" y1="369.20" x2="429.20" y2="486.80" stroke="#141414" stroke-width="1.7"/>
<line x1="429.20" y1="486.80" x2="505.00" y2="486.80" stroke="#141414" stroke-width="1.7"/>
<line x1="425.70" y1="486.80" x2="429.20" y2="486.80" stroke="#141414" stroke-width="1.7"/>
<text x="424.40" y="491.40" font-size="12.5" text-anchor="end" fill="#1a1a1a">0</text>
<line x1="425.70" y1="447.60" x2="429.20" y2="447.60" stroke="#141414" stroke-width="1.7"/>
<text x="424.40" y="452.20" font-size="12.5" text-anchor="end" fill="#1a1a1a">4</text>
<line x1="425.70" y1="408.40" x2="429.20" y2="408.40" stroke="#141414" stroke-width="1.7"/>
<text x="424.40" y="413.00" font-size="12.5" text-anchor="end" fill="#1a1a1a">8</text>
<line x1="425.70" y1="369.20" x2="429.20" y2="369.20" stroke="#141414" stroke-width="1.7"/>
<text x="424.40" y="373.80" font-size="12.5" text-anchor="end" fill="#1a1a1a">12</text>
<line x1="447.50" y1="395.95" x2="447.50" y2="397.62" stroke="#b81d3a" stroke-width="1.6"/>
<line x1="447.50" y1="431.92" x2="447.50" y2="440.74" stroke="#b81d3a" stroke-width="1.6"/>
<line x1="441.00" y1="395.95" x2="454.00" y2="395.95" stroke="#b81d3a" stroke-width="1.6"/>
<line x1="441.00" y1="440.74" x2="454.00" y2="440.74" stroke="#b81d3a" stroke-width="1.6"/>
<rect x="434.85" y="397.62" width="25.30" height="34.30" fill="none" stroke="#b81d3a" stroke-width="1.6"/>
<line x1="434.85" y1="403.50" x2="460.15" y2="403.50" stroke="#b81d3a" stroke-width="1.6"/>
<line x1="485.90" y1="385.86" x2="485.90" y2="385.86" stroke="#1f1f64" stroke-width="1.6"/>
<line x1="485.90" y1="455.44" x2="485.90" y2="471.12" stroke="#1f1f64" stroke-width="1.6"/>
<line x1="479.40" y1="385.86" x2="492.40" y2="385.86" stroke="#1f1f64" stroke-width="1.6"/>
<line x1="479.40" y1="471.12" x2="492.40" y2="471.12" stroke="#1f1f64" stroke-width="1.6"/>
<rect x="473.55" y="385.86" width="24.70" height="69.58" fill="none" stroke="#1f1f64" stroke-width="1.6"/>
<line x1="473.55" y1="396.64" x2="498.25" y2="396.64" stroke="#1f1f64" stroke-width="1.6"/>
<line x1="447.50" y1="486.80" x2="447.50" y2="490.30" stroke="#141414" stroke-width="1.7"/>
<line x1="485.90" y1="486.80" x2="485.90" y2="490.30" stroke="#141414" stroke-width="1.7"/>
<text x="446.50" y="502.60" font-size="12.5" text-anchor="middle" fill="#1a1a1a">C1</text>
<text x="489.50" y="502.60" font-size="12.5" text-anchor="middle" fill="#1a1a1a">IgG1</text>
<text transform="translate(394.8,432.1) rotate(-90)" x="0" y="0" font-size="11.3" text-anchor="middle" fill="#1a1a1a" textLength="92" lengthAdjust="spacingAndGlyphs">% of CD34<tspan dy="-4.2" font-size="9" fill="#888" style="stroke:none">+</tspan><tspan dy="4.2">cells</tspan></text>
<text transform="translate(408.7,429.3) rotate(-90)" x="0" y="0" font-size="11.3" text-anchor="middle" fill="#1a1a1a" textLength="103" lengthAdjust="spacingAndGlyphs">/ CD45<tspan dy="-4.2" font-size="9" fill="#888" style="stroke:none">+</tspan><tspan dy="4.2">cells in BM</tspan></text>
</svg></body></html>
